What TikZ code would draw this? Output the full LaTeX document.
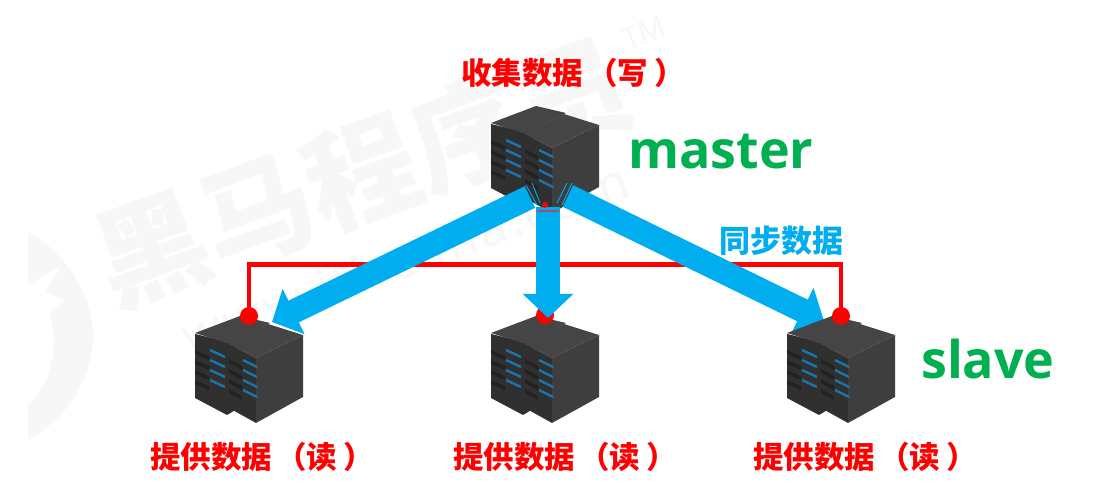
\documentclass[tikz,border=0pt]{standalone}
\usepackage{fontspec}
\setmainfont{Open Sans}
\newfontfamily\cjk{Noto Sans CJK SC}
\usetikzlibrary{arrows.meta}
\definecolor{flow}{HTML}{00AEEF}
\definecolor{lab}{HTML}{FF0000}
\definecolor{gr}{HTML}{00AF50}
\definecolor{wm}{HTML}{F7F7F7}
\definecolor{stop}{HTML}{454545}
\definecolor{sleft}{HTML}{303030}
\definecolor{sright}{HTML}{3E3E3E}
\definecolor{slot}{HTML}{222222}
\definecolor{led}{HTML}{1B75AE}
\definecolor{seam}{HTML}{B5446E}
\newcommand{\rdlabel}[1]{提供数据\kern4pt（\kern0pt#1\kern6pt）}
\tikzset{
  redlabel/.style={text=lab,font=\cjk\bfseries\fontsize{30.5}{32}\selectfont,inner sep=0pt},
  greenlabel/.style={text=gr,font=\bfseries\fontsize{52}{54}\selectfont,inner sep=0pt},
  synclabel/.style={text=flow,font=\cjk\bfseries\fontsize{31}{33}\selectfont,inner sep=0pt},
  watermark/.style={text=wm,inner sep=0pt,rotate=20},
  srvbox/.style={minimum width=108pt,minimum height=108pt,inner sep=0pt},
  redline/.style={draw=lab,line width=4.5pt},
  reddot/.style={circle,fill=lab,minimum size=18pt,inner sep=0pt},
  bluearrow/.style={draw=flow,line width=24pt,-{Triangle[length=24pt,width=49pt]}},
  server/.pic={
    % rear rack
    \fill[sleft] (-54,-35) -- (-12,-25) -- (-12,40) -- (-22,46) -- (-54,29) -- cycle;
    \fill[stop] (-54,-36) -- (-9,-53) -- (21,-46) -- (-19,-25) -- cycle;
    % front rack
    \fill[sleft] (-20,-25) -- (7,-11) -- (7,54) -- (-20,39) -- cycle;
    \fill[sright] (7,-11) -- (54,-34) -- (54,28) -- (7,54) -- cycle;
    \fill[stop] (-20,-25) -- (19,-45) -- (54,-34) -- (7,-11) -- cycle;
    % slots and lights
    \foreach \d in {0,10,20,30}{
      \fill[slot] (-54,{-19+\d}) -- (-40,{-13+\d}) -- (-40,{-9+\d}) -- (-54,{-15+\d}) -- cycle;
      \draw[led,line width=2.4pt] (-39,{-19+\d}) -- (-24,{-12+\d});
      \fill[slot] (-20,{-10+\d}) -- (-7,{-3+\d}) -- (-7,{1+\d}) -- (-20,{-6+\d}) -- cycle;
      \draw[led,line width=2.4pt] (-6,{-9+\d}) -- (8,{-2+\d});
    }
  }
}
\begin{document}
\begin{tikzpicture}[x=1pt,y=-1pt]
\useasboundingbox (0,0) rectangle (1101,494);
\fill[white] (0,0) rectangle (1101,494);
% watermark
\node[watermark,font=\cjk\bfseries\fontsize{112}{114}\selectfont] (wmtext) at (362,172) {黑马程序员};
\node[watermark,font=\fontsize{30}{32}\selectfont] (wmtm) at (644,33) {TM};
\node[watermark,font=\fontsize{52}{54}\selectfont\addfontfeature{LetterSpace=5}] (wmurl) at (405,258) {www.itheima.com};
\fill[wm] (28,232) .. controls (70,255) and (93,300) .. (93,335) .. controls (93,380) and (65,420) .. (28,440) -- (28,405) .. controls (50,385) and (60,350) .. (50,315) -- (65,300) -- (45,292) -- (62,265) -- (28,285) -- cycle;
% servers
\node[srvbox] (m) at (545,159) {};
\node[srvbox] (s1) at (249,369) {};
\node[srvbox] (s2) at (545,369) {};
\node[srvbox] (s3) at (841,369) {};
\foreach \n in {m,s1,s2} \pic at (\n) {server};
% sync lines
\coordinate (bus) at (0,264.5);
\coordinate (d3) at (841,316);
\node[reddot] (d1) at (249,316) {};
\node[reddot] (d2) at (545,315) {};
\draw[redline,line join=miter] (d1.center) -- (d1.center |- bus) -- (d3 |- bus) -- (d3);
\draw[redline] (d2.center) -- (d2.center |- bus);
% flow arrows
\coordinate (mout1) at (530,197);
\coordinate (mout2) at (548,207);
\coordinate (mout3) at (568,196);
\coordinate (in1) at (272,322);
\coordinate (in2) at (548,318);
\coordinate (in3) at (824,321);
\draw[bluearrow] (mout1) -- (in1);
\draw[bluearrow] (mout2) -- (in2);
\draw[bluearrow] (mout3) -- (in3);
\pic at (s3) {server};
\node[reddot] (d3dot) at (d3) {};
% fine seams where the arrows leave the master
\coordinate (sa1) at (526,185); \coordinate (sa2) at (537,205);
\coordinate (sb1) at (532,183); \coordinate (sb2) at (540,203);
\coordinate (sc1) at (567,183); \coordinate (sc2) at (557,203);
\coordinate (sd1) at (572,183); \coordinate (sd2) at (562,205);
\draw[flow,line width=0.9pt] (sa1) -- (sa2);
\draw[flow,line width=0.9pt] (sb1) -- (sb2);
\draw[flow,line width=0.9pt] (sc1) -- (sc2);
\draw[flow,line width=0.9pt] (sd1) -- (sd2);
\fill[lab] (545,205) circle (3pt);
\draw[seam,line width=2pt] (537,211) -- (559,211);
% labels
\node[redlabel,anchor=west] (t0) at (461,73) {收集数据\kern4pt（\kern0pt写\kern6pt）};
\node[redlabel,anchor=west] (t1) at (150,457) {\rdlabel{读}};
\node[redlabel,anchor=west] (t2) at (453,457) {\rdlabel{读}};
\node[redlabel,anchor=west] (t3) at (753,457) {\rdlabel{读}};
\node[greenlabel,anchor=west] (tm) at (628,152) {master};
\node[greenlabel,anchor=west] (ts) at (921,359) {slave};
\node[synclabel,anchor=center] (ty) at (781,241) {同步数据};
\end{tikzpicture}
\end{document}
